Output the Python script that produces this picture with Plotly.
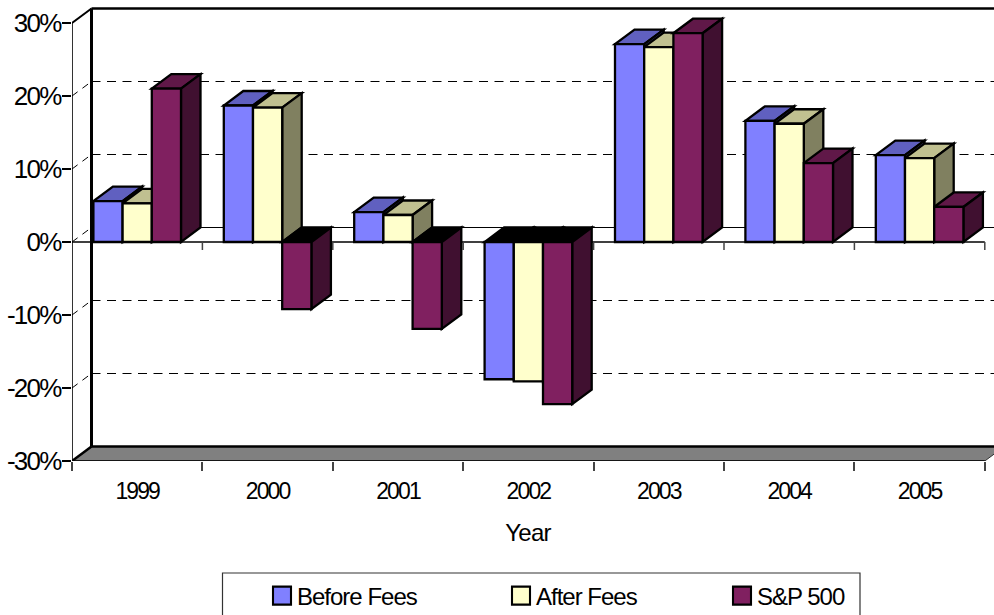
import plotly.graph_objects as go

categories = ["1999", "2000", "2001", "2002", "2003", "2004", "2005"]
before_fees = [5.6, 18.7, 4.1, -18.8, 27.1, 16.6, 11.9]
after_fees = [5.3, 18.4, 3.7, -19.1, 26.7, 16.2, 11.5]
sp500 = [21.0, -9.2, -11.9, -22.2, 28.6, 10.8, 4.8]
series_names = ["Before Fees", "After Fees", "S&P 500"]
y_ticks = [-30, -20, -10, 0, 10, 20, 30]

FRONT = ["#8080FF", "#FFFFCC", "#802060"]
TOP = ["#6060C0", "#C0C090", "#601848"]
SIDE = ["#404080", "#808060", "#401030"]
FONT = "Liberation Sans"

PX_X, PX_Y = 130.4, 7.3
DX, DY = 19.5 / PX_X, 14.5 / PX_Y
BAR_W = 29.2 / PX_X
X_END = (994 - 72) / PX_X
Y_TOP = 242 / PX_Y
n = len(categories)
centers = [i + 0.5 for i in range(n)]
all_series = [before_fees, after_fees, sp500]
LEGEND_TEXT_X = [257, 496, 717]


def poly(pts, fill, lw=2.3, color="black"):
    path = "M " + " L ".join(f"{x},{y}" for x, y in pts) + " Z"
    return dict(type="path", path=path, xref="x", yref="y", fillcolor=fill,
                line=dict(color=color, width=lw), layer="below")


def seg(x0, y0, x1, y1, width=1, dash="solid", color="black", layer="below"):
    return dict(type="line", x0=x0, y0=y0, x1=x1, y1=y1, xref="x", yref="y",
                line=dict(color=color, width=width, dash=dash), layer=layer)


shapes = []
for v in y_ticks[1:-1]:
    if v == 0:
        shapes.append(seg(DX, v + DY, X_END + 1, v + DY, 1))
    else:
        shapes.append(seg(DX, v + DY, X_END + 1, v + DY, 1, "9px,6.5px"))
    shapes.append(seg(0, v, DX, v + DY, 1, "7px,6px"))
shapes.append(poly([(0, -30), (DX, -30 + DY), (n + DX, -30 + DY), (n, -30)], "#808080", 1, "#333333"))
shapes.append(seg(DX, -30 + DY, X_END + 1, -30 + DY, 2.5))
shapes.append(seg(0, 0, n, 0, 1.5))
for i in range(1, n + 1):
    shapes.append(seg(i, 0, i, -8 / PX_Y, 1.5, color="#444444"))
for i, c in enumerate(centers):
    for s, vals in enumerate(all_series):
        v = vals[i]
        x0 = c + (s - 1.5) * BAR_W
        x1 = x0 + BAR_W
        if v >= 0:
            shapes.append(poly([(x0, v), (x1, v), (x1 + DX, v + DY), (x0 + DX, v + DY)], TOP[s]))
        else:
            shapes.append(poly([(x0, 0), (x1, 0), (x1 + DX, DY), (x0 + DX, DY)], "black"))
        shapes.append(poly([(x1, v), (x1 + DX, v + DY), (x1 + DX, DY), (x1, 0)], SIDE[s]))

shapes.append(seg(DX, 30 + DY, DX, -30 + DY, 3))
shapes.append(seg(DX, 30 + DY, X_END + 1, 30 + DY, 2.5))
shapes.append(seg(0, 30, DX, 30 + DY, 2))
shapes.append(seg(0, -30, DX, -30 + DY, 2.5))

shapes.append(dict(type="rect", xref="paper", yref="paper",
                   x0=(222.5 - 72) / 922, x1=(860 - 72) / 922,
                   y0=(461 - 630) / 461, y1=(461 - 573) / 461,
                   line=dict(color="#333333", width=1.2), fillcolor="rgba(0,0,0,0)"))

fig = go.Figure()
legend_ids = ["legend", "legend2", "legend3"]
for s, vals in enumerate(all_series):
    fig.add_trace(go.Bar(name=series_names[s], x=centers, y=vals, legend=legend_ids[s],
                         showlegend=True,
                         marker=dict(color=FRONT[s], line=dict(color="black", width=2.3))))

fig.add_trace(go.Scatter(x=[0, 0, n], y=[30, -30, -30], mode="lines", cliponaxis=False,
                         line=dict(color="black", width=1.6), showlegend=False, hoverinfo="skip"))


def legend_at(px):
    return dict(x=(px - 72) / 922, xanchor="left", y=(461 - 596) / 461, yanchor="middle",
                font=dict(size=24, family=FONT), bgcolor="rgba(0,0,0,0)")


fig.update_layout(
    width=994, height=615, autosize=False,
    margin=dict(l=72, r=0, t=0, b=154, autoexpand=False),
    paper_bgcolor="white", plot_bgcolor="white",
    font=dict(family=FONT, color="black"),
    barmode="group", bargap=1 - 3 * BAR_W, bargroupgap=0,
    shapes=shapes,
    legend=legend_at(LEGEND_TEXT_X[0]),
    legend2=legend_at(LEGEND_TEXT_X[1]),
    legend3=legend_at(LEGEND_TEXT_X[2]),
    xaxis=dict(range=[0, X_END], showgrid=False, zeroline=False, showline=False,
               tickmode="array", tickvals=centers, ticktext=categories,
               ticks="outside", ticklen=9, tickcolor="rgba(0,0,0,0)",
               tickfont=dict(size=23, family=FONT),
               minor=dict(ticks="outside", ticklen=9, tickwidth=1.5, tickcolor="#444444",
                          tickmode="array", tickvals=list(range(n + 1)), showgrid=False),
               title=dict(text="Year", font=dict(size=24, family=FONT), standoff=21)),
    yaxis=dict(range=[-30, Y_TOP], showgrid=False, zeroline=False, showline=False,
               tickmode="array", tickvals=y_ticks, ticktext=[f"{v}%" for v in y_ticks],
               ticks="outside", ticklen=9, ticklabelstandoff=-4, tickwidth=1.5, tickcolor="black",
               tickfont=dict(size=26, family=FONT)),
)

post = """
document.body.style.margin = '0';
var st = document.createElement('style');
st.textContent = '.ytick text{letter-spacing:-1.7px}.xtick text{letter-spacing:-1.9px}'
 + '.legendtext,.legend2text,.legend3text{letter-spacing:-1px}'
 + '.xtitle{letter-spacing:-0.8px;transform:translate(-5px,0)}'
 + '.legendpoints path{transform:translate(25px,0) scale(1.5);stroke-width:1.4px !important}';
document.head.appendChild(st);
"""
fig.write_html("out.html", post_script=post, config=dict(responsive=False, displayModeBar=False))
